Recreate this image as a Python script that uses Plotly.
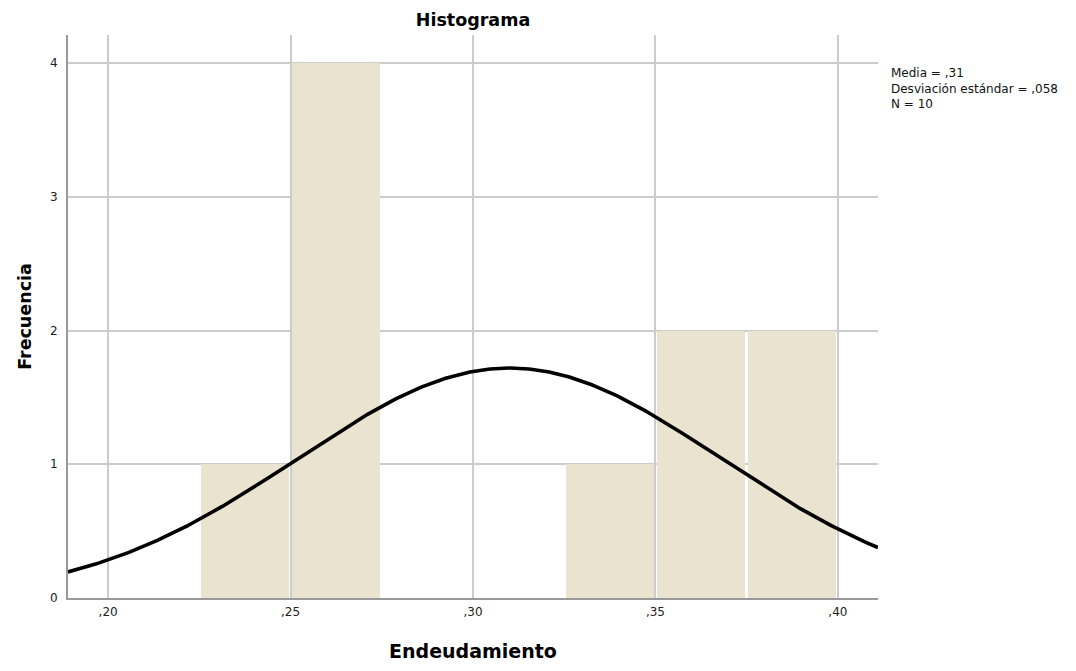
import numpy as np
import plotly.graph_objects as go

# Data
bin_starts = [0.225, 0.250, 0.275, 0.300, 0.325, 0.350, 0.375]
counts = [1, 4, 0, 0, 1, 2, 2]
bin_width = 0.025
mean_val = 0.31
sd_val = 0.058
n_val = 10
x_tick_vals = [0.20, 0.25, 0.30, 0.35, 0.40]
x_tick_text = [",20", ",25", ",30", ",35", ",40"]
y_tick_vals = [0, 1, 2, 3, 4]
stats_text = ["Media = ,31", "Desviación estándar = ,058", "N = 10"]

x_range = [0.189, 0.411]
y_range = [0, 4.21]

centers = [b + bin_width / 2 for b in bin_starts]

# Normal curve scaled to counts
xc = np.linspace(x_range[0], x_range[1], 400)
yc = n_val * bin_width / (sd_val * np.sqrt(2 * np.pi)) * np.exp(-0.5 * ((xc - mean_val) / sd_val) ** 2)

W, H = 1076, 671
ML, MR, MT, MB = 60, 206, 27, 81
PW, PH = W - ML - MR, H - MT - MB


def px_x(px):
    return (px - ML) / PW


def px_y(py):
    return (H - MB - py) / PH


fig = go.Figure()
fig.add_trace(go.Bar(
    x=centers, y=counts, width=bin_width - 0.0009,
    marker=dict(color="#E9E3CF", line=dict(width=0)),
    hoverinfo="skip", showlegend=False,
))
fig.add_trace(go.Scatter(
    x=xc, y=yc, mode="lines",
    line=dict(color="black", width=3.6),
    hoverinfo="skip", showlegend=False,
))

font_fam = "DejaVu Sans, Liberation Sans, Arial, sans-serif"

fig.update_layout(
    width=W, height=H,
    margin=dict(l=ML, r=MR, t=MT, b=MB),
    paper_bgcolor="white", plot_bgcolor="white",
    font=dict(family=font_fam, size=12, color="#222"),
    title=dict(text="<b>Histograma</b>", x=(ML + PW / 2) / W, xanchor="center",
               y=1 - 12 / H, yanchor="middle", font=dict(size=17.5, color="black", family=font_fam)),
    bargap=0,
    xaxis=dict(
        range=x_range, tickvals=x_tick_vals, ticktext=x_tick_text,
        showgrid=True, gridcolor="#CCCCCC", gridwidth=1.5,
        showline=True, linecolor="#999999", linewidth=2,
        zeroline=False, ticks="", tickfont=dict(size=12, color="#222"),
        ticklabelstandoff=2,
        title=dict(text="<b>Endeudamiento</b>", font=dict(size=19, color="black"), standoff=26),
    ),
    yaxis=dict(
        range=y_range, tickvals=y_tick_vals,
        showgrid=True, gridcolor="#CCCCCC", gridwidth=1.5,
        showline=True, linecolor="#999999", linewidth=2,
        zeroline=False, ticks="", tickfont=dict(size=12, color="#222"),
        ticklabelstandoff=6,
        title=dict(text="<b>Frecuencia</b>", font=dict(size=17.5, color="black"), standoff=14),
    ),
)

fig.add_annotation(
    text="<br>".join(stats_text), xref="paper", yref="paper",
    x=px_x(881), y=px_y(56),
    xanchor="left", yanchor="top", align="left", showarrow=False,
    font=dict(size=12, color="#111", family=font_fam),
)

fig.write_html("out.html")
